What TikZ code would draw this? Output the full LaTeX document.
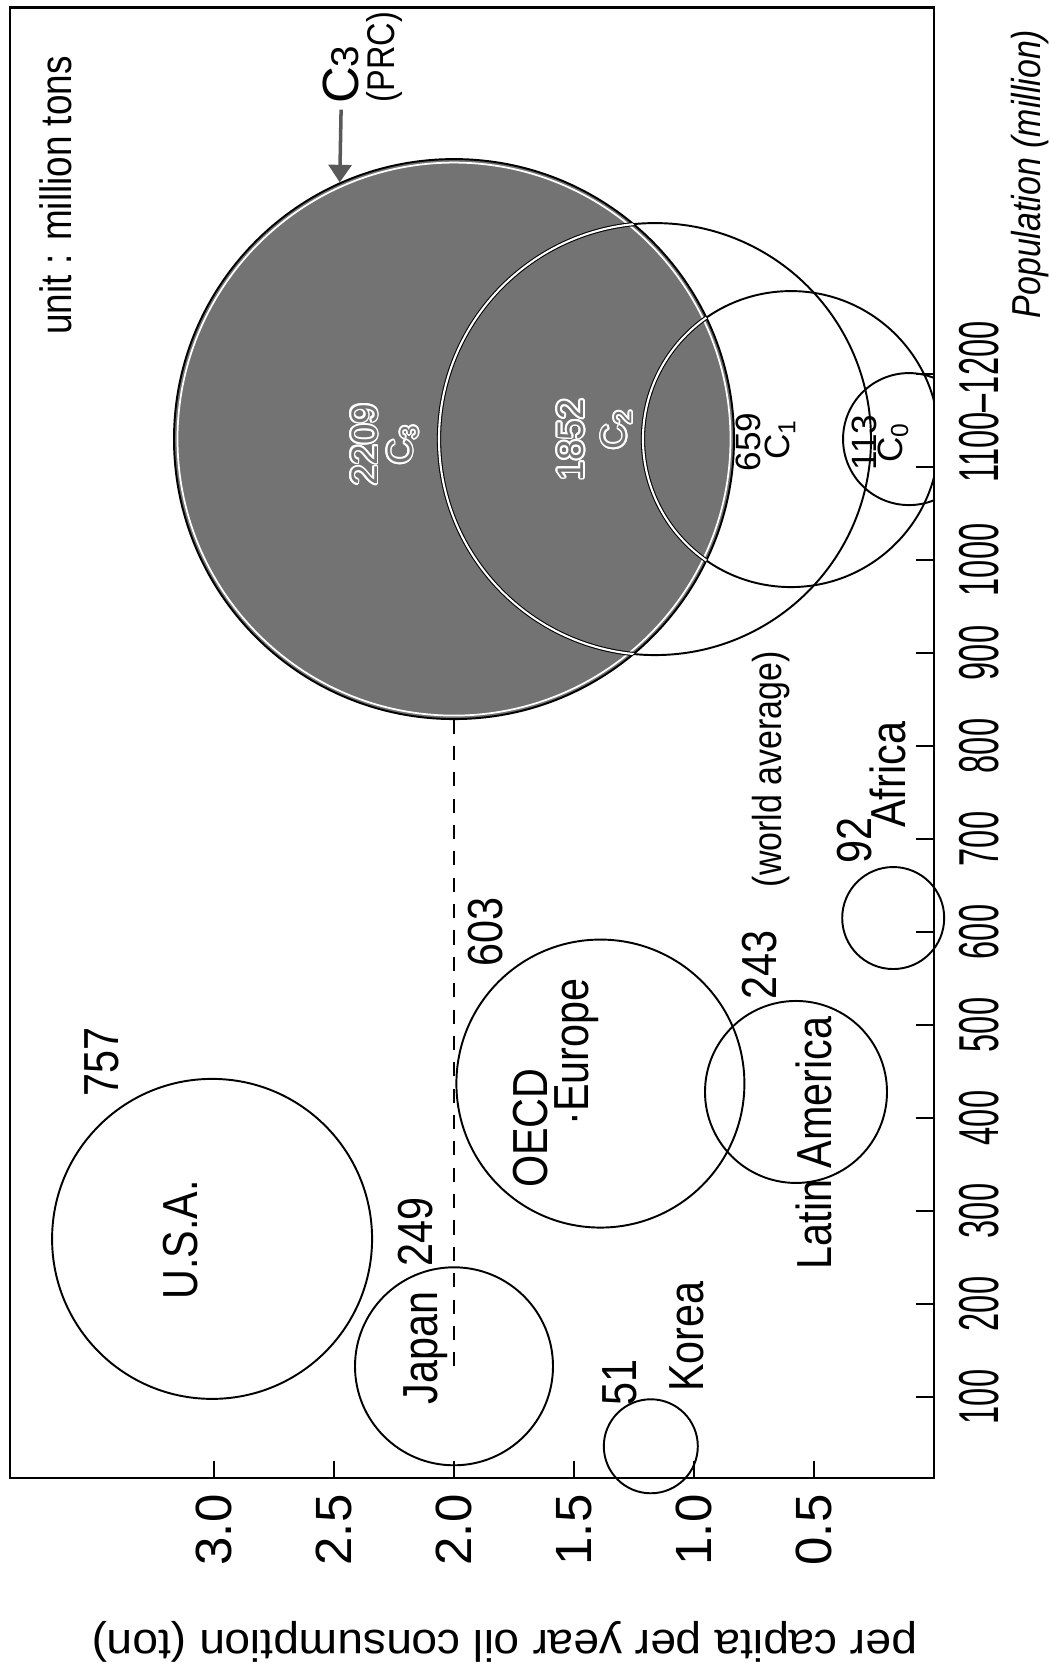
\documentclass[tikz,border=0pt]{standalone}
\usepackage{fontspec}
\setmainfont{Liberation Sans}
\newfontfamily\narrowfont[FakeStretch=0.84]{Liberation Sans}
\newfontfamily\tickfont[FakeStretch=0.58]{Liberation Sans}
\newfontfamily\widefont[FakeStretch=1.05]{Liberation Sans}
\usepackage{contour}
\contourlength{1pt}
\usetikzlibrary{arrows.meta,positioning}

\definecolor{prcgrey}{gray}{0.45}
\definecolor{arrowgrey}{gray}{0.35}

\tikzset{
  bubble/.style={circle, draw, line width=1.1pt, inner sep=0pt},
  txt/.style={rotate=90, inner sep=0pt, font=\narrowfont\fontsize{28}{30}\selectfont},
  smalltxt/.style={rotate=90, inner sep=0pt, font=\narrowfont\fontsize{21}{23}\selectfont},
  numtxt/.style={rotate=90, inner sep=0pt, font=\fontsize{20}{22}\selectfont},
  poptick/.style={rotate=90, inner sep=0pt, font=\tickfont\fontsize{32}{34}\selectfont},
  captick/.style={rotate=90, inner sep=0pt, font=\fontsize{29}{31}\selectfont},
}

\begin{document}
\begin{tikzpicture}
    \useasboundingbox (0,0) rectangle (20.98,33.4);
    % chart drawn in data units: x = population (100 million), y = ton per capita
    \begin{scope}[shift={(18.68,3.6)}, x={(0,1.86cm)}, y={(-4.8cm,0)}]
        % frame and ticks
        \draw[line width=1.6pt] (0.13,0) rectangle (15.94,3.85);
        \foreach \p in {1,...,12}
            \draw[line width=1pt] (\p,0) -- (\p,0.075);
        \foreach \p in {1,...,10}
            \node[poptick] (pop\p) at (\p,-0.19) {\p00};
        \node[poptick] (pop11) at (11.7,-0.19) {1100–1200};
        \foreach \c/\t in {0.5/0.5,1/1.0,1.5/1.5,2/2.0,2.5/2.5,3/3.0} {
            \draw[line width=1pt] (0.13,\c) -- (0.31,\c);
            \node[captick] (cap\t) at (-0.43,\c) {\t};
        }
        \node[rotate=180, inner sep=0pt, font=\widefont\fontsize{25}{27}\selectfont] (ylab) at (-1.63,1.79) {per capita per year oil consumption (ton)};
        \node[rotate=90, inner sep=0pt, font=\narrowfont\itshape\fontsize{23}{25}\selectfont] (xlab) at (14.15,-0.40) {Population (million)};
        \node[txt, font=\narrowfont\fontsize{25}{27}\selectfont] (unit) at (13.92,3.66) {unit : million tons};

        % countries
        \node[bubble, minimum size=6.4cm] (usa) at (2.70,3.008) {};
        \node[bubble, minimum size=3.96cm] (japan) at (1.33,2.0) {};
        \node[bubble, minimum size=1.88cm] (korea) at (0.47,1.18) {};
        \node[bubble, minimum size=5.76cm] (oecd) at (4.37,1.39) {};
        \node[bubble, minimum size=3.64cm] (latam) at (4.28,0.575) {};
        \node[bubble, minimum size=2.04cm] (africa) at (6.15,0.17) {};

        \node[txt] (usanum) at (4.60,3.467) {757};
        \node[txt] (usalab) at (2.69,3.14) {U.S.A.};
        \node[txt] (japannum) at (2.77,2.16) {249};
        \node[txt] (japanlab) at (1.53,2.12) {Japan};
        \node[txt] (koreanum) at (1.16,1.31) {51};
        \node[txt] (korealab) at (1.65,1.03) {Korea};
        \node[txt] (oecdlab) at (3.89,1.68) {OECD};
        \node[txt] (europelab) at (4.71,1.49) {·Europe};
        \node[txt] (oecdnum) at (6.0,1.87) {603};
        \node[txt] (latamnum) at (5.65,0.725) {243};
        \node[txt] (latamlab) at (3.73,0.50) {Latin America};
        \node[smalltxt, font=\narrowfont\fontsize{23}{25}\selectfont] (worldavg) at (7.75,0.68) {(world average)};
        \node[txt] (africanum) at (6.98,0.33) {92};
        \node[txt] (africalab) at (7.69,0.19) {Africa};

        % PRC scenarios
        \begin{scope}
            \clip (0.13,0) rectangle (15.94,3.85);
            \node[bubble, minimum size=2.64cm] (c0) at (11.3,0.104) {};
            \node[bubble, minimum size=5.92cm] (c1) at (11.3,0.596) {};
            \node[bubble, minimum size=8.64cm] (c2) at (11.3,1.1625) {};
            \node[bubble, fill=prcgrey, minimum size=11.2cm] (c3) at (11.3,2.0) {};
            \clip (c3.center) circle (5.6cm);
            \draw[white, line width=1pt] (c3.center) circle (5.53cm);
            \draw[line width=0.6pt, double=white, double distance=1.2pt] (c2.center) circle (4.32cm);
            \draw[line width=0.6pt, double=white, double distance=1.2pt] (c1.center) circle (2.96cm);
        \end{scope}

        \draw[dashed, dash pattern=on 8pt off 7pt, line width=1pt] (japan.center) -- (c3.south);

        \node[numtxt, text=prcgrey, font=\fontsize{21}{23}\selectfont] (c3num) at (11.24,2.37) {\contour{white}{2209}};
        \node[numtxt, text=prcgrey] (c3lab) at (11.24,2.21) {\contour{white}{C\textsubscript{3}}};
        \node[numtxt, text=prcgrey, font=\fontsize{21}{23}\selectfont] (c2num) at (11.29,1.51) {\contour{white}{1852}};
        \node[numtxt, text=prcgrey] (c2lab) at (11.40,1.32) {\contour{white}{C\textsubscript{2}}};
        \node[numtxt] (c1num) at (11.27,0.775) {659};
        \node[numtxt] (c1lab) at (11.29,0.64) {C\textsubscript{1}};
        \node[numtxt] (c0num) at (11.26,0.29) {113};
        \node[numtxt] (c0lab) at (11.26,0.17) {C\textsubscript{0}};

        \node[txt, anchor=west, font=\fontsize{29}{31}\selectfont] (c3top) at (14.90,2.47) {C{\fontsize{22}{22}\selectfont 3}};
        \node[smalltxt, anchor=west, font=\narrowfont\fontsize{22}{24}\selectfont] (prc) at (14.92,2.29) {(PRC)};
        \draw[-{Triangle[width=13pt,length=10pt]}, line width=2pt, arrowgrey, shorten <=3pt] (c3top.west) -- (c3.114);
    \end{scope}
\end{tikzpicture}
\end{document}
